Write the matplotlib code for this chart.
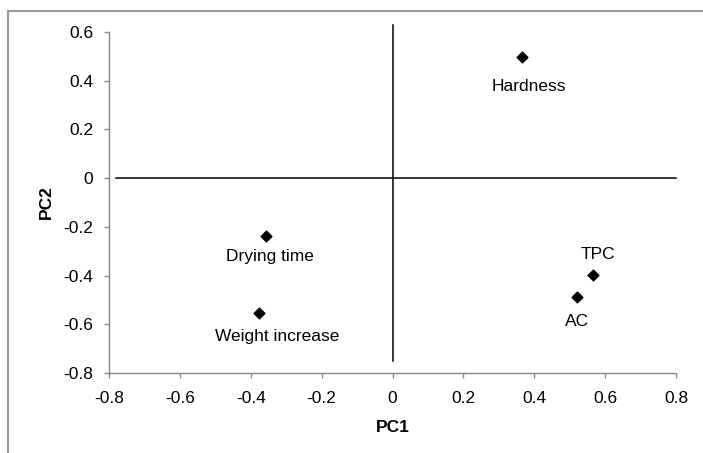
import matplotlib
matplotlib.use("Agg")
import matplotlib.pyplot as plt
from matplotlib.lines import Line2D

# PCA loadings
names = ["Hardness", "Drying time", "Weight increase", "TPC", "AC"]
pc1 = [0.365, -0.358, -0.376, 0.567, 0.521]
pc2 = [0.498, -0.238, -0.553, -0.398, -0.487]
# label offsets in points (dx, dy) relative to each point
offsets = [(5, -21), (3, -15), (13, -17), (3, 15), (0, -18)]

xticks = [-0.8, -0.6, -0.4, -0.2, 0, 0.2, 0.4, 0.6, 0.8]
yticks = [-0.8, -0.6, -0.4, -0.2, 0, 0.2, 0.4, 0.6]

plt.rcParams['font.family'] = ['Liberation Sans', 'DejaVu Sans']
fs = 12.5

fig = plt.figure(figsize=(7.03, 4.53), dpi=100)
ax = fig.add_axes([109 / 703, 80 / 453, 567 / 703, 341 / 453])

ax.scatter(pc1, pc2, marker='D', s=30, color='black', zorder=3)
for n, x, y, (dx, dy) in zip(names, pc1, pc2, offsets):
    ax.annotate(n, (x, y), xytext=(dx, dy), textcoords='offset points',
                ha='center', va='center', fontsize=fs)

# cross lines through the origin
ax.plot([-0.78, 0.8], [0, 0], color='black', lw=1.1, clip_on=False, zorder=2)
ax.plot([0, 0], [-0.75, 0.63], color='black', lw=1.1, clip_on=False, zorder=2)

ax.set_xlim(-0.8, 0.8)
ax.set_ylim(-0.8, 0.6)
ax.set_xticks(xticks)
ax.set_yticks(yticks)
ax.set_xticklabels(["%g" % v for v in xticks])
ax.set_yticklabels(["%g" % v for v in yticks])
ax.tick_params(direction='out', length=3.5, width=1, colors='#888888',
               labelcolor='black', labelsize=fs)
ax.tick_params(axis='x', pad=9.5)
ax.tick_params(axis='y', pad=8)
for s in ['top', 'right']:
    ax.spines[s].set_visible(False)
for s in ['left', 'bottom']:
    ax.spines[s].set_color('#888888')
    ax.spines[s].set_linewidth(1)

ax.set_xlabel("PC1", fontsize=fs, fontweight='bold', labelpad=10)
ax.set_ylabel("PC2", fontsize=fs, fontweight='bold', labelpad=7)

# chart-area border (only left and top visible in the crop)
fig.add_artist(Line2D([8 / 703, 8 / 703], [0, 1 - 11 / 453],
                      transform=fig.transFigure, color='#999999', lw=1.5))
fig.add_artist(Line2D([8 / 703, 1], [1 - 11 / 453, 1 - 11 / 453],
                      transform=fig.transFigure, color='#999999', lw=1.5))

fig.savefig("out.png", dpi=100)
